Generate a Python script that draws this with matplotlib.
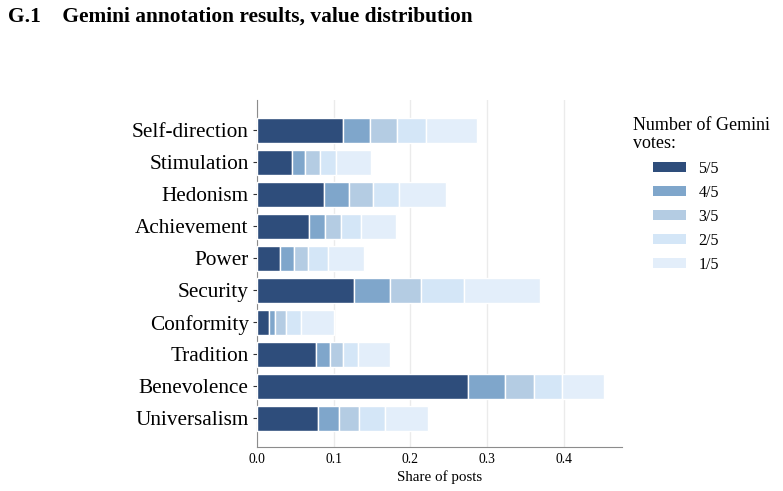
import numpy as np
import matplotlib
matplotlib.use("Agg")
import matplotlib.pyplot as plt
from matplotlib.patches import Patch

categories = ["Self-direction", "Stimulation", "Hedonism", "Achievement", "Power",
              "Security", "Conformity", "Tradition", "Benevolence", "Universalism"]
vote_labels = ["5/5", "4/5", "3/5", "2/5", "1/5"]

# share of posts per number of Gemini votes (segment widths)
votes_5 = [0.112, 0.046, 0.087, 0.068, 0.030, 0.126, 0.015, 0.077, 0.275, 0.080]
votes_4 = [0.036, 0.017, 0.033, 0.021, 0.018, 0.047, 0.009, 0.018, 0.049, 0.027]
votes_3 = [0.034, 0.019, 0.031, 0.020, 0.018, 0.041, 0.014, 0.017, 0.037, 0.026]
votes_2 = [0.038, 0.021, 0.034, 0.027, 0.027, 0.056, 0.019, 0.020, 0.037, 0.034]
votes_1 = [0.067, 0.046, 0.061, 0.045, 0.047, 0.099, 0.044, 0.041, 0.055, 0.056]

colors = ["#2e4d7b", "#7fa6cb", "#b4cce3", "#d4e6f7", "#e3eefa"]

plt.rcParams["font.family"] = ["Liberation Serif", "DejaVu Serif"]

fig = plt.figure(figsize=(7.83, 4.91), dpi=100)
ax = fig.add_axes([257 / 783, 1 - 447 / 491, (622 - 257) / 783, (447 - 100) / 491])

y = np.arange(len(categories))
left = np.zeros(len(categories))
for vals, col, lab in zip([votes_5, votes_4, votes_3, votes_2, votes_1], colors, vote_labels):
    ax.barh(y, vals, left=left, height=0.78, color=col, edgecolor="white",
            linewidth=1.0, label=lab, zorder=3)
    left += np.array(vals)

ax.set_ylim(9.9, -0.95)
ax.set_xlim(0, 0.476)
ax.set_yticks(y)
ax.set_yticklabels(categories, fontsize=15.3)
ax.set_xticks([0.0, 0.1, 0.2, 0.3, 0.4])
ax.set_xticklabels(["0.0", "0.1", "0.2", "0.3", "0.4"], fontsize=9.8)
ax.set_xlabel("Share of posts", fontsize=10.8, labelpad=3)
ax.grid(axis="x", color="#ebebeb", linewidth=1.0, zorder=0)
for s in ["top", "right"]:
    ax.spines[s].set_visible(False)
for s in ["left", "bottom"]:
    ax.spines[s].set_color("#8c8c8c")
ax.tick_params(axis="y", length=3, color="#333333", pad=3)
ax.tick_params(axis="x", length=0, pad=4)

# legend title drawn separately so the entries can be indented
fig.text(633 / 783, 1 - 130 / 491, "Number of Gemini", fontsize=13.0, va="baseline")
fig.text(633 / 783, 1 - 148 / 491, "votes:", fontsize=13.0, va="baseline")
handles = [Patch(facecolor=c, edgecolor="none") for c in colors]
leg = fig.legend(handles, vote_labels, loc="upper left", bbox_to_anchor=(645 / 783, 1 - 153 / 491),
                 frameon=False, fontsize=11.5, borderpad=0, handlelength=2.05,
                 handleheight=0.6, handletextpad=0.8, labelspacing=0.5)

fig.text(8 / 783, 1 - 22 / 491, "G.1    Gemini annotation results, value distribution",
         fontsize=15.4, fontweight="bold")

fig.savefig("out.png", dpi=100)
